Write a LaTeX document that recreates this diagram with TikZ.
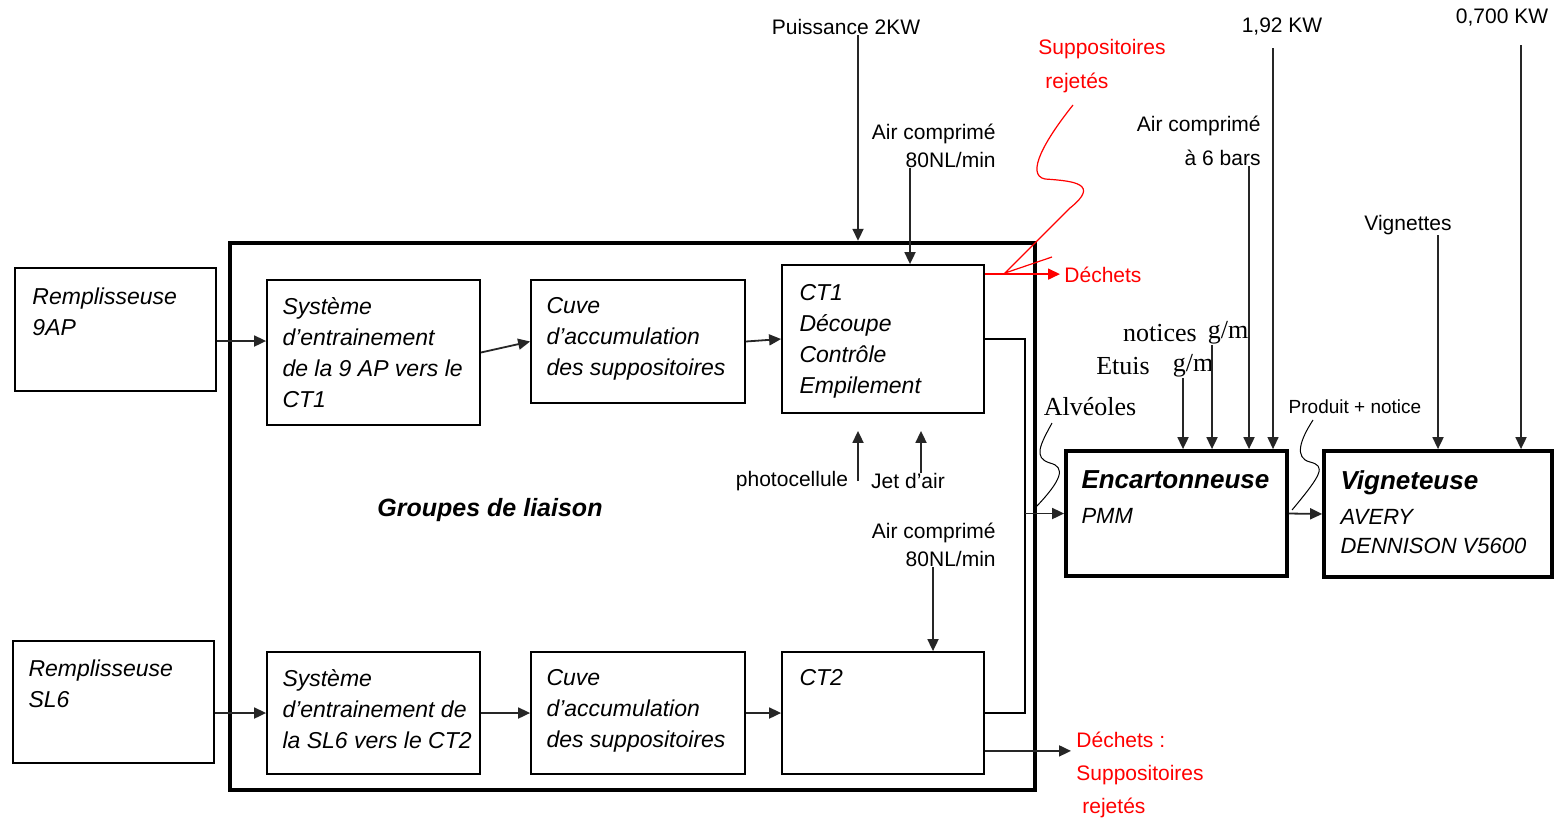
\documentclass[tikz,border=0pt]{standalone}
\usepackage{fontspec}
\setmainfont{Liberation Sans}
\newfontfamily\serifface{Liberation Serif}
\usetikzlibrary{arrows.meta, positioning, calc}

\begin{document}
\begin{tikzpicture}[
    x=0.5pt, y=-0.5pt,
    >={Triangle[length=6pt,width=5.5pt]},
    every node/.style={inner sep=0pt},
    box/.style={draw=black, line width=0.9pt},
    bigbox/.style={draw=black, line width=2.2pt},
    machine/.style={draw=black, line width=1.9pt},
    boxtext/.style={anchor=north west, align=left,
                    font=\fontsize{11.5}{15.5}\selectfont\itshape},
    lbl/.style={font=\fontsize{10.5}{14}\selectfont},
    rlbl/.style={font=\fontsize{10.5}{17}\selectfont, text=red},
    serlbl/.style={font=\serifface\fontsize{13}{15}\selectfont},
    flow/.style={->, line width=0.9pt, draw=black!85},
    link/.style={line width=0.9pt, draw=black},
    redflow/.style={->, line width=0.8pt, draw=red},
    callout/.style={line width=0.5pt, draw=black},
    redcallout/.style={line width=0.6pt, draw=red}
  ]

  \path[use as bounding box, fill=white] (0,0) rectangle (1556,826);

  % ===== GROUPES DE LIAISON =====
  \node[bigbox, minimum width=402.5pt, minimum height=273.5pt] (groupe) at (632.5,516.5) {};
  \node[font=\fontsize{12.5}{15}\selectfont\bfseries\itshape] (groupes) at (490,510) {Groupes de liaison};

  % ===== LIGNE 9AP =====
  \node[box, minimum width=100.5pt, minimum height=61.5pt] (rempl1) at (115.5,329.5) {};
  \node[boxtext] at ($(rempl1.north west)+(18,20)$) {Remplisseuse\\9AP};
  \node[box, minimum width=106.5pt, minimum height=72.5pt] (sys1) at (373.5,352.5) {};
  \node[boxtext] at ($(sys1.north west)+(16,18)$) {Système\\d'entrainement\\de la 9 AP vers le\\CT1};
  \node[box, minimum width=107pt, minimum height=61.5pt] (cuve1) at (638,341.5) {};
  \node[boxtext] at ($(cuve1.north west)+(16,18)$) {Cuve\\d'accumulation\\des suppositoires};
  \node[box, minimum width=101pt, minimum height=74pt] (ct1) at (883,339) {};
  \node[boxtext] at ($(ct1.north west)+(18,20)$) {CT1\\Découpe\\Contrôle\\Empilement};

  \draw[flow] ([yshift=-5.75pt]rempl1.east) -- ([yshift=-5.75pt]rempl1.east -| sys1.west);
  \draw[flow] (sys1.east) -- (cuve1.west);
  \draw[flow] (cuve1.east) -- (ct1.west);

  % ===== LIGNE SL6 =====
  \node[box, minimum width=100.5pt, minimum height=61pt] (rempl2) at (113.5,702) {};
  \node[boxtext] at ($(rempl2.north west)+(16,19)$) {Remplisseuse\\SL6};
  \node[box, minimum width=106.5pt, minimum height=61pt] (sys2) at (373.5,713) {};
  \node[boxtext] at ($(sys2.north west)+(16,18)$) {Système\\d'entrainement de\\la SL6 vers le CT2};
  \node[box, minimum width=107pt, minimum height=61pt] (cuve2) at (638,713) {};
  \node[boxtext] at ($(cuve2.north west)+(16,18)$) {Cuve\\d'accumulation\\des suppositoires};
  \node[box, minimum width=101pt, minimum height=61pt] (ct2) at (883,713) {};
  \node[boxtext] at ($(ct2.north west)+(18,18)$) {CT2};

  \draw[flow] (sys2.west -| rempl2.east) -- (sys2.west);
  \draw[flow] (sys2.east) -- (cuve2.west);
  \draw[flow] (cuve2.east) -- (ct2.west);

  % ===== MACHINES AVAL =====
  \node[machine, minimum width=110.5pt, minimum height=62.5pt] (encart) at (1176.5,513.5) {};
  \node[boxtext, font=\fontsize{11}{17.5}\selectfont\itshape] at ($(encart.north west)+(17,21)$)
    {{\fontsize{13}{17.5}\selectfont\bfseries Encartonneuse}\\PMM};
  \node[machine, minimum width=114pt, minimum height=63pt] (vign) at (1438,514) {};
  \node[boxtext, font=\fontsize{11}{14.5}\selectfont\itshape] at ($(vign.north west)+(18,21)$)
    {{\fontsize{13}{17.5}\selectfont\bfseries Vigneteuse}\\[3pt]AVERY\\DENNISON V5600};

  % sorties CT1 / CT2 -> encartonneuse
  \coordinate (bus) at (1025,513.5);
  \draw[link] (ct1.east) -- (ct1.east -| bus) -- (ct2.east -| bus) -- (ct2.east);
  \draw[flow] (bus) -- (encart.west);
  \draw[flow] (encart.east) -- (vign.west);

  % ===== ENTREES CT1 / CT2 =====
  \node[lbl] (puiss) at (846,27) {Puissance 2KW};
  \coordinate (pwin) at ($(groupe.north)+(225.5,0)$);
  \draw[flow] (puiss.south -| pwin) -- (pwin);

  \node[lbl, align=right, anchor=north east] (air1) at (996,124) {Air comprimé\\80NL/min};
  \coordinate (ct1air) at ($(ct1.north)+(27,0)$);
  \draw[flow] (air1.south -| ct1air) -- (ct1air);

  \node[lbl] (photo) at (792,481) {photocellule};
  \node[lbl] (jet) at (908,481) {Jet d'air};
  \coordinate (photohead) at ($(ct1.south)+(-25,17)$);
  \coordinate (jethead) at ($(ct1.south)+(38,17)$);
  \draw[flow] (photo.east -| photohead) -- (photohead);
  \draw[flow] (jet.north -| jethead) -- (jethead);

  \node[lbl, align=right, anchor=north east] (air2) at (996,523) {Air comprimé\\80NL/min};
  \coordinate (ct2air) at ($(ct2.north)+(50,0)$);
  \draw[flow] (air2.south -| ct2air) -- (ct2air);

  % ===== DECHETS =====
  \node[rlbl, anchor=west, inner sep=2pt] (dech1) at (1060,275) {Déchets};
  \coordinate (waste1) at ($(ct1.north east)+(0,10)$);
  \draw[redflow] (waste1) -- (waste1 -| dech1.west);

  \node[rlbl, align=left, anchor=north west] (supp) at (1038,39) {Suppositoires\\\hspace*{3.5pt}rejetés};
  \coordinate (rejtail) at (1073,105);
  \draw[redcallout] (rejtail) .. controls (1045,140) and (1025,175) .. (1045,179)
    .. controls (1075,181) and (1100,184) .. (1070,208) -- (1005,273) -- (1052,257);

  \node[rlbl, align=left, anchor=north west, font=\fontsize{10.5}{16.5}\selectfont] (dech2) at (1076,732)
    {Déchets :\\Suppositoires\\\hspace*{3pt}rejetés};
  \coordinate (waste2) at ($(ct2.south east)+(0,-24)$);
  \coordinate (waste2end) at ($(waste2 -| dech2.west)+(-5,0)$);
  \draw[flow] (waste2) -- (waste2end);

  % ===== ENTREES ENCARTONNEUSE =====
  \node[serlbl] (notices) at (1160,333) {notices};
  \node[serlbl] (gm2) at (1228,333) {g/m};
  \node[serlbl] (etuis) at (1123,366) {Etuis};
  \node[serlbl] (gm1) at (1193,366) {g/m};
  \node[lbl, align=right, anchor=north east, font=\fontsize{10.5}{17}\selectfont] (air3) at (1261,116)
    {Air comprimé\\à 6 bars};
  \node[lbl] (kw1) at (1282,27) {1,92 KW};

  \coordinate (in1) at ($(encart.north)+(6.5,0)$);
  \coordinate (in2) at ($(encart.north)+(35.5,0)$);
  \coordinate (in3) at ($(encart.north)+(72.5,0)$);
  \coordinate (in4) at ($(encart.north)+(96.5,0)$);
  \coordinate (kw1start) at ($(kw1.south -| in4)+(0,12)$);
  \draw[flow] (gm1.south -| in1) -- (in1);
  \draw[flow] (gm2.south -| in2) -- (in2);
  \draw[flow] (air3.south -| in3) -- (in3);
  \draw[flow, line width=0.6pt] (kw1start) -- (in4);

  \node[serlbl] (alv) at (1090,407) {Alvéoles};
  \draw[callout] (1052,423) .. controls (1040,445) and (1033,458) .. (1050,463)
    .. controls (1066,467) and (1062,480) .. (1035,508);

  % ===== ENTREES VIGNETEUSE =====
  \node[lbl, font=\fontsize{9.5}{12}\selectfont] (prod) at (1355,407) {Produit + notice};
  \draw[callout] (1313,420) .. controls (1300,440) and (1294,458) .. (1310,462)
    .. controls (1326,466) and (1322,474) .. (1292,510);

  \node[lbl] (vignettes) at (1408,225) {Vignettes};
  \draw[flow] (vignettes.south -| vign.north) -- (vign.north);

  \node[lbl] (kw2) at (1502,18) {0,700 KW};
  \coordinate (vin2) at ($(vign.north)+(83,0)$);
  \coordinate (kw2start) at ($(kw2.south -| vin2)+(0,18)$);
  \draw[flow] (kw2start) -- (vin2);

\end{tikzpicture}
\end{document}
